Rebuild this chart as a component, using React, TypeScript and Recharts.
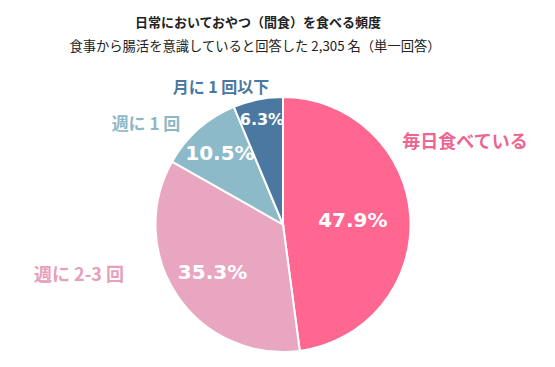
import { PieChart, Pie, Cell } from 'recharts';

const categories = ['毎日食べている', '週に 2-3 回', '週に 1 回', '月に 1 回以下'];
const shares = [47.9, 35.3, 10.5, 6.3];

const sliceColors = ['#FF6690', '#E9A6C0', '#8CBAC8', '#4A78A0'];
const labelColors = ['#EE6690', '#E6A0BC', '#8CB8C6', '#4A78A0'];

// inner % label radius per slice, outer name label offsets from centre
const innerRadius = [70, 85, 95, 107];
const innerFont = [20, 20, 20, 16];
const outerOffset = [
  [182, -85],
  [-204, 48],
  [-137, -102],
  [-62, -139],
];
const outerFont = [18, 18, 17, 16];

const data = categories.map((name, i) => ({ name, value: shares[i] }));

const RAD = Math.PI / 180;

function renderLabel(props: any) {
  const { cx, cy, midAngle, index } = props;
  const r = innerRadius[index];
  const x = cx + r * Math.cos(-midAngle * RAD);
  const y = cy + r * Math.sin(-midAngle * RAD);
  const [ox, oy] = outerOffset[index];
  return (
    <g>
      <text
        x={x}
        y={y}
        fill="#fff"
        textAnchor="middle"
        dominantBaseline="central"
        fontFamily="'DejaVu Sans', sans-serif"
        fontWeight="bold"
        fontSize={innerFont[index]}
      >
        {shares[index].toFixed(1)}%
      </text>
      <text
        x={cx + ox}
        y={cy + oy}
        fill={labelColors[index]}
        textAnchor="middle"
        dominantBaseline="central"
        fontFamily="'Noto Sans CJK JP', sans-serif"
        fontWeight="bold"
        fontSize={outerFont[index]}
      >
        {categories[index]}
      </text>
    </g>
  );
}

export default function App() {
  return (
    <div
      style={{
        position: 'absolute',
        left: 0,
        top: 0,
        width: 555,
        height: 367,
        background: '#fff',
        fontFamily: "'Noto Sans CJK JP', sans-serif",
      }}
    >
      <div
        style={{
          position: 'absolute',
          top: 12,
          left: 0,
          width: 516,
          textAlign: 'center',
          fontSize: 13,
          fontWeight: 'bold',
          color: '#222',
          lineHeight: '20px',
        }}
      >
        日常においておやつ（間食）を食べる頻度
      </div>
      <div
        style={{
          position: 'absolute',
          top: 36,
          left: 0,
          width: 510,
          textAlign: 'center',
          fontSize: 13.3,
          color: '#222',
          lineHeight: '20px',
        }}
      >
        食事から腸活を意識していると回答した 2,305 名（単一回答）
      </div>
      <PieChart width={555} height={367} style={{ position: 'absolute', left: 0, top: 0 }}>
        <Pie
          data={data}
          dataKey="value"
          cx={278}
          cy={219.5}
          outerRadius={127.5}
          startAngle={90}
          endAngle={-270}
          stroke="#fff"
          strokeWidth={2}
          labelLine={false}
          label={renderLabel}
          isAnimationActive={false}
        >
          {data.map((d, i) => (
            <Cell key={d.name} fill={sliceColors[i]} />
          ))}
        </Pie>
      </PieChart>
    </div>
  );
}
